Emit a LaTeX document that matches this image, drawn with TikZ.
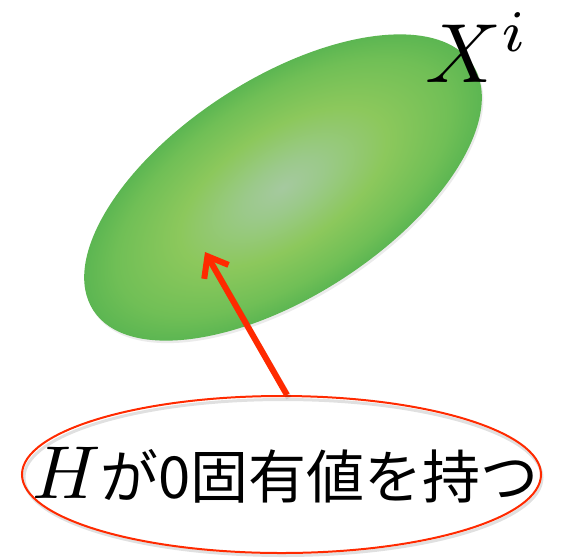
\documentclass[tikz,border=0pt]{standalone}
\usepackage{fontspec}
\usepackage{graphicx}
\newfontfamily\jp{Noto Sans CJK JP}
\usetikzlibrary{arrows.meta,shapes.geometric}
\definecolor{gcen}{HTML}{A5C99F}
\definecolor{gcm}{HTML}{9BC98A}
\definecolor{gmid}{HTML}{8CC85C}
\definecolor{gmo}{HTML}{70BF56}
\definecolor{gout}{HTML}{5CB652}
\definecolor{redl}{HTML}{FF2A00}
\pgfdeclareradialshading{greenblob}{\pgfpoint{0bp}{0bp}}{color(0bp)=(gcen); color(5bp)=(gcm); color(13bp)=(gmid); color(21bp)=(gmo); color(25bp)=(gout); color(50bp)=(gout)}
\begin{document}
\begin{tikzpicture}[x=1pt,y=1pt,
  redline/.style={draw=redl, line width=2pt},
  shadowline/.style={draw=black, opacity=0.12},
  arrowline/.style={redl, line width=6pt, -{Straight Barb[length=18pt,width=28pt]}}]
\useasboundingbox (0,0) rectangle (561,-557);
% shadow of the green blob
\begin{scope}[transform canvas={rotate around={32.9:(284.5,-190)}}]
  \fill[black, opacity=0.08] (284.5,-190) ellipse [x radius=226, y radius=109];
\end{scope}
% green blob
\begin{scope}[transform canvas={rotate around={32.9:(283,-187.5)}}]
  \shade[shading=greenblob] (283,-187.5) ellipse [x radius=226, y radius=109];
\end{scope}
% label X^i
\node[anchor=base west, inner sep=0] (xi) at (425,-82) {\scalebox{8.4}{$X^i$}};
% red ellipse with label
\draw[shadowline, line width=3pt] (283,-477.5) ellipse [x radius=259, y radius=78];
\node[ellipse, redline, minimum width=519, minimum height=157, inner sep=0] (lbl) at (281.5,-474.5) {};
\node[anchor=base west, inner sep=0] (txt) at (32,-498) {\scalebox{7.5}{$H$}\jp\fontsize{58}{60}\selectfont が0固有値を持つ};
% arrow
\coordinate (tail) at (287,-395);
\coordinate (tip) at (205,-252);
\coordinate (tails) at (289,-398);
\coordinate (tips) at (207,-255);
\draw[black, opacity=0.10, line width=6pt] (tails) -- (tips);
\draw[arrowline] (tail) -- (tip);
\end{tikzpicture}
\end{document}
